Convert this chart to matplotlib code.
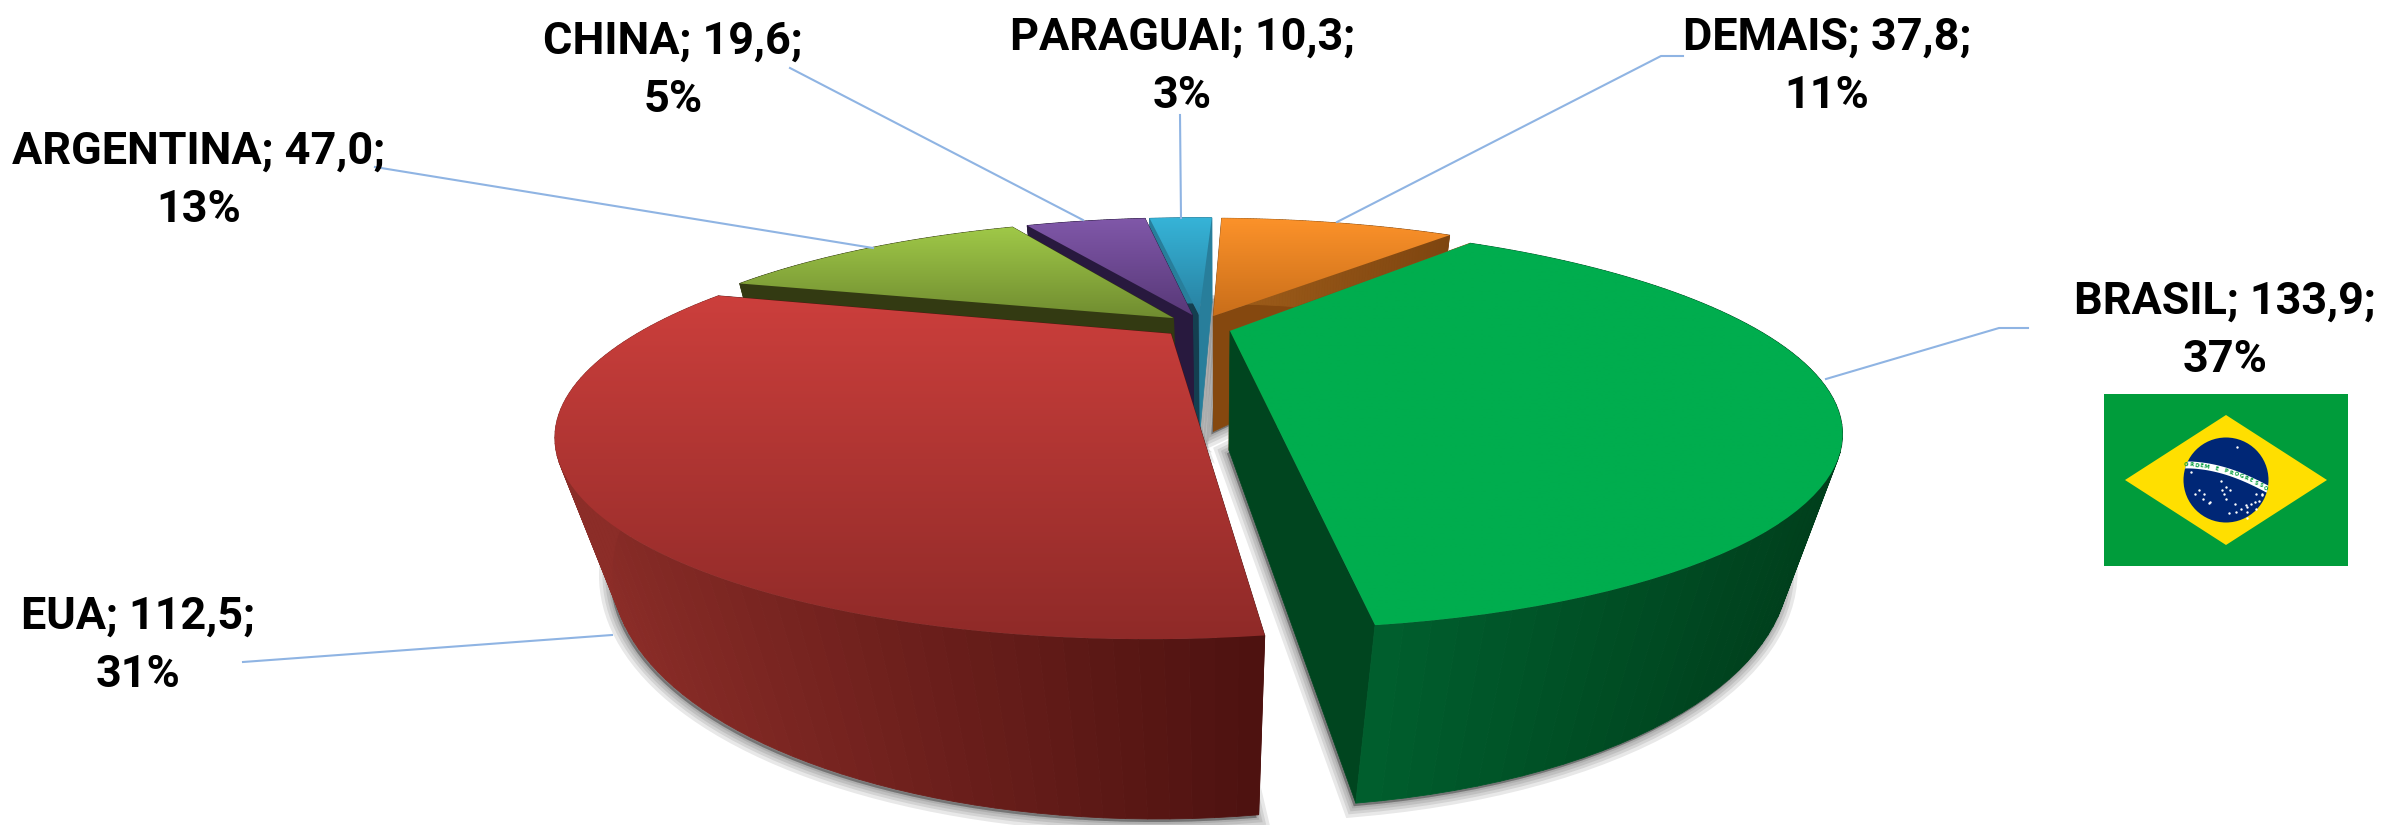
import numpy as np
import matplotlib
matplotlib.use("Agg")
import matplotlib.pyplot as plt
from matplotlib.colors import LinearSegmentedColormap, to_rgb
from matplotlib.patches import Polygon, Circle, Rectangle

# data
names = ["BRASIL", "EUA", "ARGENTINA", "CHINA", "PARAGUAI", "DEMAIS"]
values = [133.9, 112.5, 47.0, 19.6, 10.3, 37.8]
percents = [37, 31, 13, 5, 3, 11]

# slice styles, same order as names
top_colors = [("#00AD4E", "#00AD4E"), ("#CC3F3C", "#8F2A28"), ("#A0C948", "#708C30"),
              ("#8058A9", "#583878"), ("#36B4D8", "#2880A0"), ("#FC922A", "#C96E1A")]
rim_colors = [("#00602E", "#003F1C"), ("#8C2D28", "#4E1210"), ("#333A12", "#333A12"),
              ("#28193E", "#28193E"), ("#287E9B", "#287E9B"), ("#A05E1A", "#7E4510")]
wall_start = ["#8A4B12", "#501210", "#333A12", "#28193E", "#143F50", "#82470F"]
wall_end = ["#00451F", "#501210", "#333A12", "#28193E", "#287E9B", "#85480F"]
explode = [(0.066, -0.072), (-0.045, -0.090), (-0.042, 0.013),
           (-0.005, 0.034), (0.008, 0.034), (0.036, 0.027)]
draw_order = [5, 4, 3, 2, 1, 0]

# text and leader placement in picture pixels
label_pos = [(2225, 331), (138, 646), (199, 181), (673, 71), (1182, 67), (1827, 67)]
leaders = [[(2028, 328), (1999, 328), (1826, 379)],
           [(243, 662), (612, 635)],
           [(375, 167), (873, 248)],
           [(790, 68), (1083, 220)],
           [(1180, 115), (1181, 218)],
           [(1683, 56), (1661, 56), (1337, 222)]]

# projection of the tilted disc
START_ANGLE = 40.0
CX, CY, RX, RY, K = 1195.0, 320.0, 512.0, 146.0, 0.46
VX, VY, DEPTH = 1215.0, 2100.0, 0.07


def project(x, y):
    w = 1 + K * y
    return CX + RX * x / w, CY - RY * y / w


def lower(x, y):
    px, py = project(x, y)
    w = 1 + K * y
    s = w / (w + DEPTH)
    return VX + (px - VX) * s, VY + (py - VY) * s


def blend(c1, c2, t):
    a, b = np.array(to_rgb(c1)), np.array(to_rgb(c2))
    return tuple(a + (b - a) * t)


fig = plt.figure(figsize=(23.82, 8.25), dpi=100)
ax = fig.add_axes([0, 0, 1, 1])
ax.axis("off")

total = sum(values)
sweeps = [v / total * 360 for v in values]
starts = START_ANGLE + np.cumsum([0] + sweeps[:-1])

slices = []
for i in range(len(values)):
    a = np.radians(np.linspace(starts[i], starts[i] + sweeps[i], 80))
    ox, oy = explode[i]
    arc_x = ox + np.sin(a)
    arc_y = oy + np.cos(a)
    slices.append((ox, oy, arc_x, arc_y))

# soft shadow under the slices
for i in range(len(values)):
    ox, oy, arc_x, arc_y = slices[i]
    bx, by = lower(np.r_[ox, arc_x], np.r_[oy, arc_y])
    for lw in [16, 11, 7, 3]:
        ax.fill(bx - 2, by + 3, facecolor="black", edgecolor="black", linewidth=lw, alpha=0.09, zorder=1)

z = 2
for i in draw_order:
    ox, oy, arc_x, arc_y = slices[i]
    tx, ty = project(arc_x, arc_y)
    bx, by = lower(arc_x, arc_y)
    ax_top = project(ox, oy)
    ax_low = lower(ox, oy)

    # straight walls
    for j, col in ((0, wall_start[i]), (-1, wall_end[i])):
        ax.fill([ax_top[0], tx[j], bx[j], ax_low[0]], [ax_top[1], ty[j], by[j], ax_low[1]],
                color=col, linewidth=0.5, zorder=z)
        z += 1

    # curved wall, shaded left to right
    x_lo, x_hi = tx.min(), tx.max()
    for k in range(len(tx) - 1):
        t = (tx[k] - x_lo) / max(x_hi - x_lo, 1)
        col = blend(rim_colors[i][0], rim_colors[i][1], t)
        ax.fill([tx[k], tx[k + 1], bx[k + 1], bx[k]], [ty[k], ty[k + 1], by[k + 1], by[k]],
                color=col, linewidth=0.6, zorder=z)
    z += 1

    # top face with vertical gradient
    poly_x = np.r_[ax_top[0], tx]
    poly_y = np.r_[ax_top[1], ty]
    outline = Polygon(np.c_[poly_x, poly_y], closed=True, facecolor="none", edgecolor="none",
                      transform=ax.transData)
    ax.add_patch(outline)
    cmap = LinearSegmentedColormap.from_list("top%d" % i, top_colors[i])
    im = ax.imshow(np.linspace(0, 1, 256).reshape(-1, 1), cmap=cmap, aspect="auto",
                   extent=(poly_x.min(), poly_x.max(), poly_y.max(), poly_y.min()),
                   interpolation="bilinear", zorder=z)
    im.set_clip_path(outline)
    z += 1

# leader lines
for pts in leaders:
    ax.plot([p[0] for p in pts], [p[1] for p in pts], color="#8FB4E3", linewidth=1.5, zorder=z)
z += 1

# labels
for i, name in enumerate(names):
    label = "%s; %s;\n%d%%" % (name, ("%.1f" % values[i]).replace(".", ","), percents[i])
    ax.text(label_pos[i][0], label_pos[i][1], label, ha="center", va="center", family="Roboto",
            weight="bold", fontsize=32.4, color="black", linespacing=1.5, zorder=z)

# flag next to BRASIL
star_x = [2191, 2195, 2199, 2204, 2203, 2209, 2210, 2221, 2222, 2224, 2226, 2230, 2226, 2235, 2241, 2246,
          2247, 2251, 2256, 2255, 2247, 2259, 2262, 2256, 2262, 2237, 2239, 2229, 2236, 2247]
star_y = [472, 494, 490, 494, 499, 503, 502, 481, 490, 494, 487, 490, 499, 504, 509, 505, 512, 504,
          494, 502, 518, 501, 494, 509, 495, 447, 477, 513, 512, 507]
motto = "ORDEM E PROGRESSO"
ax.add_patch(Rectangle((2104, 394), 244, 172, facecolor="#009C3B", edgecolor="none", zorder=z))
z += 1
ax.add_patch(Polygon([(2125, 480), (2226, 415), (2327, 480), (2226, 545)], facecolor="#FFDF00",
                     edgecolor="none", zorder=z))
z += 1
globe = Circle((2226, 480), 42.5, facecolor="#002776", edgecolor="none", zorder=z)
ax.add_patch(globe)
z += 1
band_t = np.linspace(0, 1, 40)
band_x = 2183 + 86 * band_t
band_y = 465 + 25 * band_t ** 1.7 - 1.5 * np.sin(band_t * np.pi)
band, = ax.plot(band_x, band_y, color="white", linewidth=5, solid_capstyle="butt", zorder=z)
band.set_clip_path(globe)
z += 1
for n, ch in enumerate(motto):
    t = (n + 0.7) / (len(motto) + 0.4)
    px = 2183 + 86 * t
    py = 465 + 25 * t ** 1.7 - 1.5 * np.sin(t * np.pi)
    ax.text(px, py, ch, color="#009C3B", fontsize=3.8, ha="center", va="center", weight="bold",
            rotation=-(3 + 22 * t), rotation_mode="anchor", zorder=z)
ax.scatter(star_x, star_y, s=3, color="white", linewidths=0, zorder=z)

ax.set_xlim(0, 2382)
ax.set_ylim(825, 0)
fig.savefig("out.png", dpi=100, facecolor="white")
plt.close()
